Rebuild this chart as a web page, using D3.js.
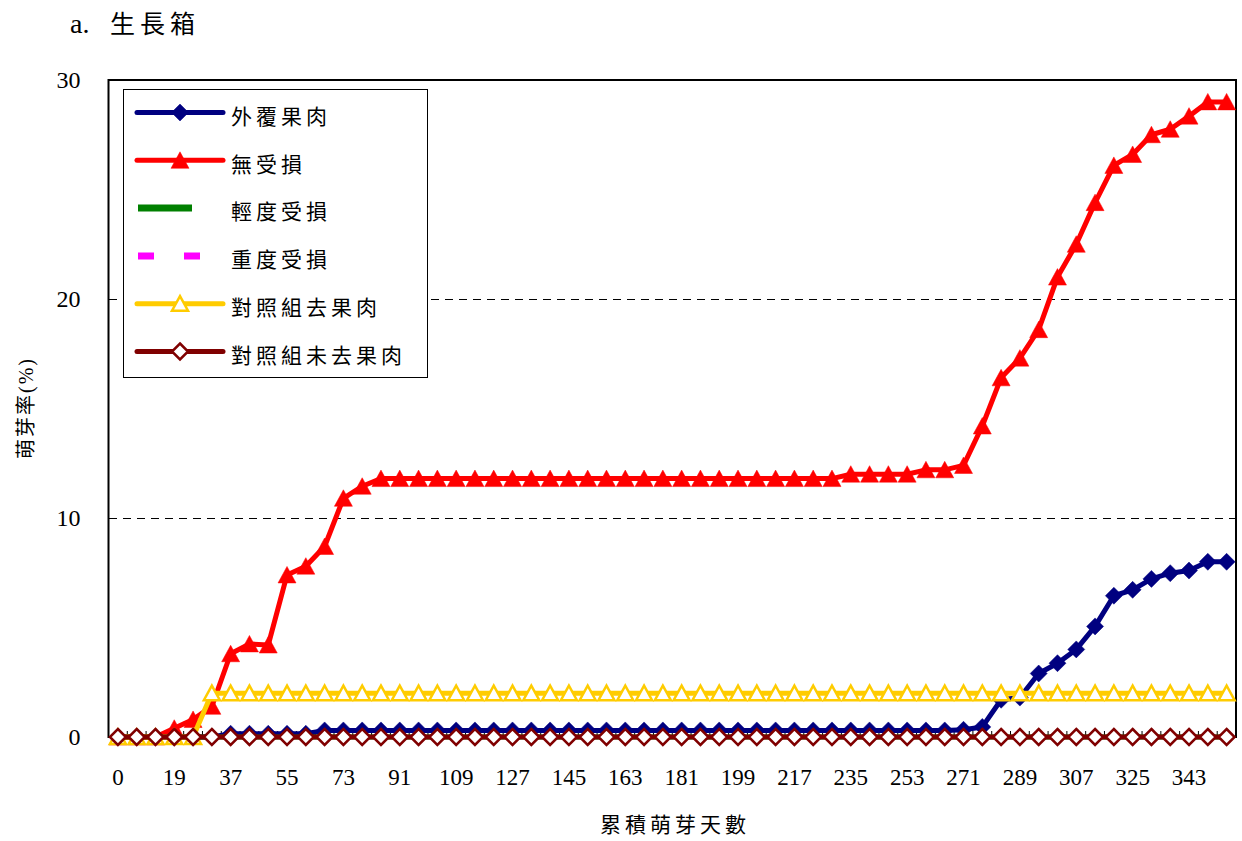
<!DOCTYPE html>
<html>
<head>
<meta charset="utf-8">
<script src="https://cdn.jsdelivr.net/npm/d3@7"></script>
<style>
  html, body { margin: 0; padding: 0; background: #fff; }
  svg { display: block; }
  text { font-family: "Liberation Serif", "Noto Sans CJK TC", serif; fill: #000; }
</style>
</head>
<body>
<svg id="chart" width="1242" height="841"></svg>
<script>
// Cumulative germination days (one category per observation)
const days = [0, 7, 13, 19, 25, 31, 37, 43, 49, 55, 61, 67, 73, 79, 85, 91, 97, 103, 109, 115,
  121, 127, 133, 139, 145, 151, 157, 163, 169, 175, 181, 187, 193, 199, 205, 211, 217, 223, 229, 235,
  241, 247, 253, 259, 265, 271, 277, 283, 289, 295, 301, 307, 313, 319, 325, 331, 337, 343, 349, 355];

// Days shown as axis labels
const tickLabels = [0, 19, 37, 55, 73, 91, 109, 127, 145, 163, 181, 199, 217, 235, 253, 271, 289, 307, 325, 343];

const yTicks = [0, 10, 20, 30];

// Germination rate (%) per treatment
const covered = [0, 0, 0, 0, 0, 0, 0.15, 0.15, 0.15, 0.15, 0.15, 0.3, 0.3, 0.3, 0.3, 0.3, 0.3, 0.3, 0.3, 0.3,
  0.3, 0.3, 0.3, 0.3, 0.3, 0.3, 0.3, 0.3, 0.3, 0.3, 0.3, 0.3, 0.3, 0.3, 0.3, 0.3, 0.3, 0.3, 0.3, 0.3,
  0.3, 0.3, 0.3, 0.3, 0.3, 0.33, 0.46, 1.7, 1.8, 2.9, 3.37, 4.0, 5.05, 6.45, 6.72, 7.22, 7.48, 7.6, 8.0, 8.0];

const undamaged = [0, 0, 0, 0.4, 0.8, 1.4, 3.8, 4.25, 4.2, 7.4, 7.8, 8.7, 10.9, 11.45, 11.8, 11.8, 11.8, 11.8, 11.8, 11.8,
  11.8, 11.8, 11.8, 11.8, 11.8, 11.8, 11.8, 11.8, 11.8, 11.8, 11.8, 11.8, 11.8, 11.8, 11.8, 11.8, 11.8, 11.8, 11.8, 12.0,
  12.0, 12.0, 12.0, 12.2, 12.2, 12.4, 14.2, 16.4, 17.3, 18.6, 21.0, 22.5, 24.4, 26.1, 26.6, 27.5, 27.75, 28.35, 29.0, 29.0];

const lightDamage = [0, 0, 0, 0, 0, 0, 0, 0, 0, 0, 0, 0, 0, 0, 0, 0, 0, 0, 0, 0,
  0, 0, 0, 0, 0, 0, 0, 0, 0, 0, 0, 0, 0, 0, 0, 0, 0, 0, 0, 0,
  0, 0, 0, 0, 0, 0, 0, 0, 0, 0, 0, 0, 0, 0, 0, 0, 0, 0, 0, 0];

const heavyDamage = [0, 0, 0, 0, 0, 0, 0, 0, 0, 0, 0, 0, 0, 0, 0, 0, 0, 0, 0, 0,
  0, 0, 0, 0, 0, 0, 0, 0, 0, 0, 0, 0, 0, 0, 0, 0, 0, 0, 0, 0,
  0, 0, 0, 0, 0, 0, 0, 0, 0, 0, 0, 0, 0, 0, 0, 0, 0, 0, 0, 0];

const ctrlPeeled = [0, 0, 0, 0, 0, 2, 2, 2, 2, 2, 2, 2, 2, 2, 2, 2, 2, 2, 2, 2,
  2, 2, 2, 2, 2, 2, 2, 2, 2, 2, 2, 2, 2, 2, 2, 2, 2, 2, 2, 2,
  2, 2, 2, 2, 2, 2, 2, 2, 2, 2, 2, 2, 2, 2, 2, 2, 2, 2, 2, 2];

const ctrlUnpeeled = [0, 0, 0, 0, 0, 0, 0, 0, 0, 0, 0, 0, 0, 0, 0, 0, 0, 0, 0, 0,
  0, 0, 0, 0, 0, 0, 0, 0, 0, 0, 0, 0, 0, 0, 0, 0, 0, 0, 0, 0,
  0, 0, 0, 0, 0, 0, 0, 0, 0, 0, 0, 0, 0, 0, 0, 0, 0, 0, 0, 0];

const seriesNames = ["外覆果肉", "無受損", "輕度受損", "重度受損", "對照組去果肉", "對照組未去果肉"];

const series = [
  { name: seriesNames[0], values: covered,      color: "#000080", width: 5, dash: null,    marker: "diamond",  fill: "#000080" },
  { name: seriesNames[1], values: undamaged,    color: "#FF0000", width: 5, dash: null,    marker: "triangle", fill: "#FF0000" },
  { name: seriesNames[2], values: lightDamage,  color: "#008000", width: 5, dash: null,    marker: null },
  { name: seriesNames[3], values: heavyDamage,  color: "#FF00FF", width: 4, dash: "16,14", marker: null },
  { name: seriesNames[4], values: ctrlPeeled,   color: "#FFCC00", width: 5, dash: null,    marker: "triangleOpen", fill: "#FFFFFF" },
  { name: seriesNames[5], values: ctrlUnpeeled, color: "#800000", width: 5, dash: null,    marker: "diamondOpen",  fill: "#FFFFFF" }
];

const svg = d3.select("#chart");
const plot = { left: 108.5, right: 1236, top: 80, bottom: 737 };

const x = d3.scaleBand().domain(days).range([plot.left, plot.right]).paddingInner(0).paddingOuter(0);
const cx = d => x(d) + x.bandwidth() / 2;
const y = d3.scaleLinear().domain([0, 30]).range([plot.bottom, plot.top]);
const crisp = v => Math.round(v) + 0.5;

// Title
svg.append("text").attr("x", 70).attr("y", 33).style("font-size", "28px").text("a.");
svg.append("text").attr("x", 110).attr("y", 33).style("font-size", "25px")
  .style("letter-spacing", "5px").text("生長箱");

// Dashed horizontal gridlines
svg.append("g").selectAll("line")
  .data(yTicks.filter(v => v > 0 && v < 30))
  .join("line")
  .attr("x1", plot.left).attr("x2", plot.right)
  .attr("y1", d => crisp(y(d))).attr("y2", d => crisp(y(d)))
  .attr("stroke", "#000").attr("stroke-width", 1).attr("stroke-dasharray", "8,6")
  .attr("shape-rendering", "crispEdges");

// Plot frame
svg.append("rect")
  .attr("x", plot.left).attr("y", plot.top)
  .attr("width", plot.right - plot.left).attr("height", plot.bottom - plot.top)
  .attr("fill", "none").attr("stroke", "#000").attr("stroke-width", 2);

// Y axis with inward ticks
const yAxis = svg.append("g").attr("transform", `translate(${plot.left},0)`)
  .call(d3.axisLeft(y).tickValues(yTicks).tickSize(-8).tickPadding(28).tickFormat(d3.format("d")));
yAxis.select(".domain").remove();
yAxis.selectAll(".tick line").attr("stroke", "#000").attr("stroke-width", 1);
yAxis.selectAll("text").style("font-size", "24px").attr("font-family", null);

// X axis: tick marks at category boundaries, labels on every third category
const boundaries = days.map(d => x(d)).concat([plot.right]);
svg.append("g").selectAll("line").data(boundaries).join("line")
  .attr("x1", d => d).attr("x2", d => d)
  .attr("y1", plot.bottom).attr("y2", plot.bottom - 6)
  .attr("stroke", "#000").attr("stroke-width", 1);

const xAxis = svg.append("g").attr("transform", `translate(0,${plot.bottom})`)
  .call(d3.axisBottom(x).tickValues(tickLabels).tickSize(0).tickPadding(32));
xAxis.select(".domain").remove();
xAxis.selectAll("text").style("font-size", "23px").attr("font-family", null);

// Axis titles
svg.append("text").attr("x", 675).attr("y", 832).attr("text-anchor", "middle")
  .style("font-size", "21px").style("letter-spacing", "4px").text("累積萌芽天數");
svg.append("text").attr("transform", "translate(33,408) rotate(-90)").attr("text-anchor", "middle")
  .style("font-size", "20px").style("letter-spacing", "2px").text("萌芽率(%)");

// Marker shapes
function markerPath(type) {
  if (type === "diamond") return "M0,-8.5L8.5,0L0,8.5L-8.5,0Z";
  if (type === "diamondOpen") return "M0,-8L8,0L0,8L-8,0Z";
  if (type === "triangle") return "M0,-8.5L9,8L-9,8Z";
  if (type === "triangleOpen") return "M0,-7.5L8,7L-8,7Z";
  return null;
}

const line = d3.line().x((v, i) => cx(days[i])).y(v => y(v));

series.forEach(s => {
  const g = svg.append("g");
  g.append("path").datum(s.values)
    .attr("d", line)
    .attr("fill", "none").attr("stroke", s.color).attr("stroke-width", s.width)
    .attr("stroke-linejoin", "round")
    .attr("stroke-dasharray", s.dash);
  if (s.marker) {
    g.selectAll("path.m").data(s.values).join("path").attr("class", "m")
      .attr("d", markerPath(s.marker))
      .attr("transform", (v, i) => `translate(${cx(days[i])},${y(v)})`)
      .attr("fill", s.fill)
      .attr("stroke", s.color)
      .attr("stroke-width", s.marker.endsWith("Open") ? 2.5 : 0.5)
      .attr("stroke-linejoin", "miter");
  }
});

// Legend
const legend = svg.append("g");
legend.append("rect").attr("x", 123.5).attr("y", 89.5).attr("width", 304).attr("height", 288)
  .attr("fill", "#fff").attr("stroke", "#000").attr("stroke-width", 1);

series.forEach((s, k) => {
  const ty = 116.5 + k * 47.8;
  const ly = ty - 4;
  const row = legend.append("g");
  if (s.name === "輕度受損") {
    row.append("line").attr("x1", 138).attr("x2", 192).attr("y1", ly).attr("y2", ly)
      .attr("stroke", s.color).attr("stroke-width", 7);
  } else if (s.name === "重度受損") {
    row.append("line").attr("x1", 138).attr("x2", 200).attr("y1", ly).attr("y2", ly)
      .attr("stroke", s.color).attr("stroke-width", 7).attr("stroke-dasharray", "16,30");
  } else {
    row.append("line").attr("x1", 137).attr("x2", 223).attr("y1", ly).attr("y2", ly)
      .attr("stroke", s.color).attr("stroke-width", s.width).attr("stroke-linecap", "round");
    row.append("path").attr("d", markerPath(s.marker))
      .attr("transform", `translate(180,${ly})`)
      .attr("fill", s.fill).attr("stroke", s.color)
      .attr("stroke-width", s.marker.endsWith("Open") ? 2.5 : 0.5);
  }
  row.append("text").attr("x", 231).attr("y", ty).attr("dy", "0.35em")
    .style("font-size", "21px").style("letter-spacing", "4px").text(s.name);
});
</script>
</body>
</html>
